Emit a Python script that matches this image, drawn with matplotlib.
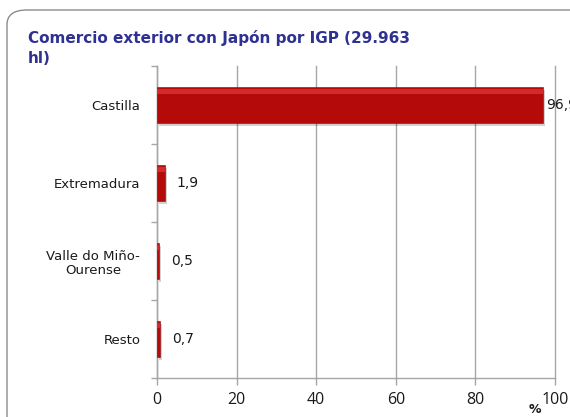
import numpy as np
import matplotlib.pyplot as plt
from matplotlib.patches import FancyBboxPatch
from matplotlib.transforms import offset_copy

# Cuota (%) del comercio exterior con Japón por IGP
categorias = ["Castilla", "Extremadura", "Valle do Miño-\nOurense", "Resto"]
valores = [96.9, 1.9, 0.5, 0.7]
etiquetas = ["96,9", "1,9", "0,5", "0,7"]
ticks_x = [0, 20, 40, 60, 80, 100]

color_barra = "#B50A0A"
color_titulo = "#2E3192"
gris = "#A6A6A6"

fig = plt.figure(figsize=(5.7, 4.17), dpi=100)
fig.patch.set_facecolor("white")

# Marco redondeado del gráfico
marco = FancyBboxPatch((7 / 570, -0.1), 1.2, (417 - 10) / 417 + 0.1,
                       boxstyle="round,pad=0,rounding_size=0.035",
                       transform=fig.transFigure, facecolor="none",
                       edgecolor="#8C8C8C", linewidth=1.0, zorder=-1)
fig.patches.append(marco)

ax = fig.add_axes([157 / 570, 1 - 378 / 417, 398 / 570, 312 / 417])
ax.set_facecolor("none")

y = np.arange(len(categorias))

# Sombra y barra principal
ax.barh(y + 0.035, valores, height=0.46, left=0.6, color="#000000",
        alpha=0.18, zorder=2, linewidth=0)
ax.barh(y, valores, height=0.46, color=color_barra, edgecolor="#8E0606",
        linewidth=0.4, zorder=3)
# Brillo superior de la barra
ax.barh(y - 0.17, valores, height=0.07, color="#E0393B", alpha=0.7,
        zorder=4, linewidth=0)

# Etiquetas de valor a la derecha de cada barra (más pegada si la barra es larga)
for yi, v, txt in zip(y, valores, etiquetas):
    dx = 3 if v > 90 else 12
    desplazado = offset_copy(ax.transData, fig=fig, x=dx, y=0, units="dots")
    ax.text(v, yi, txt, va="center", ha="left", fontsize=10,
            family="DejaVu Sans", color="#1A1A1A", zorder=5, clip_on=False,
            transform=desplazado)

ax.set_xlim(0, 100)
ax.set_ylim(3.5, -0.5)
ax.set_xticks(ticks_x)
ax.set_xticklabels([str(t) for t in ticks_x], fontsize=11.5,
                   family="Open Sans", color="#1A1A1A")
ax.set_yticks(y)
ax.set_yticklabels(categorias, fontsize=9.5, family="DejaVu Sans",
                   color="#1A1A1A")
for lab in ax.get_yticklabels():
    lab.set_multialignment("center")
ax.set_yticks(np.arange(-0.5, 4, 1), minor=True)

ax.tick_params(axis="y", which="major", length=0, pad=12)
ax.tick_params(axis="y", which="minor", length=4, color=gris, width=1)
ax.tick_params(axis="x", which="major", length=5, color=gris, width=1, pad=5)

ax.grid(axis="x", color=gris, linewidth=1, zorder=1)
for linea in ax.get_xgridlines():
    linea.set_clip_on(False)
ax.set_axisbelow(True)
for lado in ["top", "right"]:
    ax.spines[lado].set_visible(False)
for lado in ["left", "bottom"]:
    ax.spines[lado].set_color(gris)
    ax.spines[lado].set_linewidth(1)

fig.text(535 / 570, 1 - 413 / 417, "%", fontsize=9, fontweight="bold",
         family="DejaVu Sans", color="#1A1A1A", ha="center", va="baseline")

fig.text(28 / 570, 1 - 63 / 417, "Comercio exterior con Japón por IGP (29.963\nhl)",
         fontsize=11, fontweight="bold", family="DejaVu Sans",
         color=color_titulo, ha="left", va="baseline", linespacing=1.4)

fig.savefig("out.png", dpi=100)
